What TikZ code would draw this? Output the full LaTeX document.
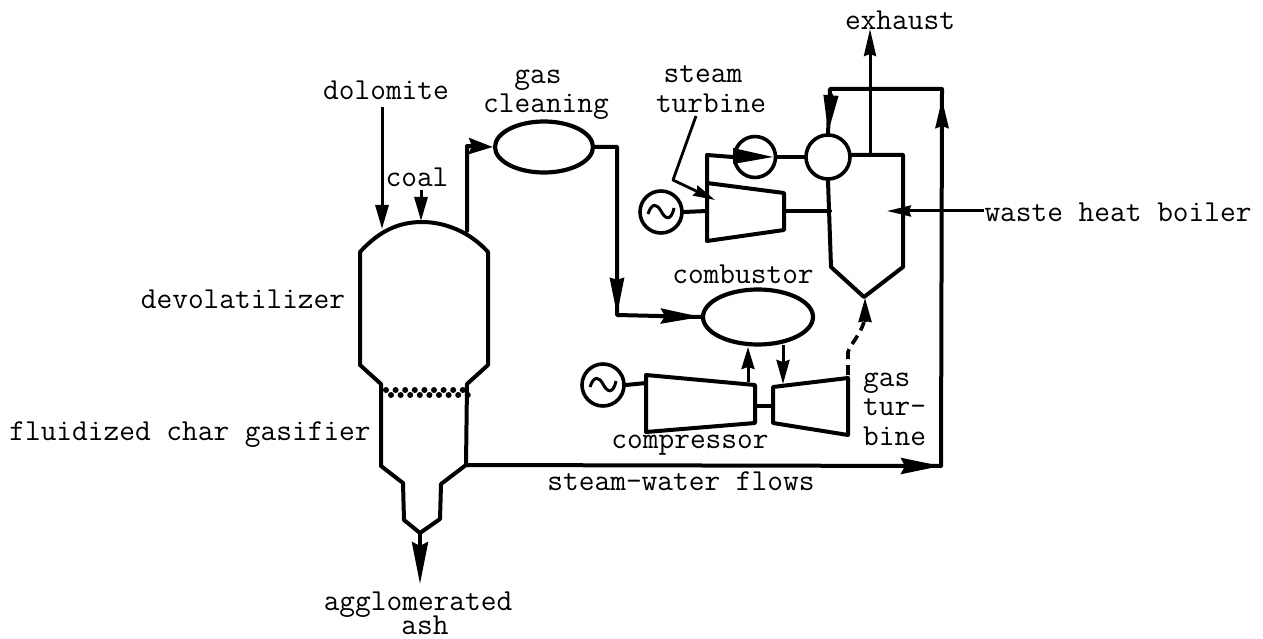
\documentclass[tikz,border=0pt]{standalone}
\usetikzlibrary{arrows.meta,shapes.geometric}
\tikzset{
  thick line/.style={line width=4pt,line join=round,line cap=round},
  thin line/.style={line width=3pt,line join=round},
  lab/.style={anchor=base,inner sep=0pt,font=\ttfamily\fontsize{30.5}{32}\selectfont},
  vessel/.style={draw,ellipse,line width=4.2pt,inner sep=0pt,fill=white},
  round unit/.style={draw,circle,line width=3.6pt,inner sep=0pt,fill=white},
}
\begin{document}
\begin{tikzpicture}[x=1pt,y=-1pt]
\useasboundingbox (0,0) rectangle (1263,639);
\fill[white] (0,0) rectangle (1263,639);
% coordinates of the vessel
\coordinate (vtl) at (360,252);
\coordinate (vtr) at (488,252);
\coordinate (vtop) at (422,222);
\coordinate (vbl) at (360,365);
\coordinate (vbr) at (488,365);
\coordinate (wl) at (381,384);
\coordinate (wr) at (467,384);
\coordinate (gl) at (381,466);
\coordinate (gr) at (466,465);
\coordinate (nl) at (403,483);
\coordinate (nr) at (441,484);
\coordinate (el) at (404,520);
\coordinate (er) at (440,519);
\coordinate (vb) at (420,533);
\coordinate (ashtip) at (420,584);
% vessel
\draw[thick line] (wl) -- (vbl) -- (vtl) .. controls (380,230) and (400,222) .. (vtop)
  .. controls (445,222) and (470,232) .. (vtr) -- (vbr) -- (wr) -- (gr) -- (nr) -- (er) -- (vb) -- (el) -- (nl) -- (gl) -- (wl);
% grid
\foreach \i in {0,...,8}{
  \fill (386+\i*9.6,390) circle (3pt);
  \fill (391+\i*9.6,395) circle (3pt);
}
% inputs
\coordinate (dolS) at (382,107);
\coordinate (dolT) at (382,229);
\coordinate (coalS) at (421,190);
\coordinate (coalT) at (421,221);
\draw[thin line,-{Stealth[length=24pt,width=13pt,inset=0pt]}] (dolS) -- (dolT);
\draw[thin line,-{Stealth[length=24pt,width=13pt,inset=0pt]}] (coalS) -- (coalT);
% gas cleaning
\node[vessel,minimum width=98pt,minimum height=51pt] (gc) at (544,147) {};
\node[vessel,minimum width=110pt,minimum height=55pt] (comb) at (758,317) {};
\coordinate (outtop) at (467,231);
\coordinate (cornerA) at (467,146);
\draw[thick line,-{Stealth[length=24pt,width=16pt,inset=3pt]}] (outtop) -- (cornerA) -- (gc.west);
\coordinate (cornerB) at (617,147);
\coordinate (cornerC) at (617,315);
\draw[thick line] (gc.east) -- (cornerB) -- (cornerC) -- (comb.west);
\coordinate (hdA) at (617,276);
\draw[thick line,-{Stealth[length=37pt,width=14pt,inset=2pt]}] (hdA) -- (cornerC);
\coordinate (hdB) at (660,316);
\draw[thick line,-{Stealth[length=40pt,width=15pt,inset=4pt]}] (hdB) -- (comb.west);
% steam side
\node[round unit,minimum size=44pt] (valve) at (828,157) {};
\node[round unit,minimum size=41pt] (pump) at (755,157) {};
\coordinate (tl) at (707,183);
\coordinate (tr) at (784,193);
\coordinate (br) at (784,230);
\coordinate (bl) at (707,241);
\draw[thick line] (tl) -- (tr) -- (br) -- (bl) -- cycle;
\coordinate (stTop) at (707,155);
\draw[thick line] (tl) -- (stTop) -- (pump.west);
\draw[thick line] (pump.east) -- (valve.west);
\fill (733,148) -- (773,157) -- (733,164) -- cycle;
% boiler
\coordinate (bA) at (831,267);
\coordinate (bTip) at (864,297);
\coordinate (bB) at (903,267);
\coordinate (bC) at (903,155);
\draw[thick line] (valve.south) -- (bA) -- (bTip) -- (bB) -- (bC) -- (valve.east |- bC);
\coordinate (tShaft) at (784,211);
\coordinate (bShaft) at (830,211);
\draw[thick line] (tShaft) -- (bShaft);
% generator 1
\node[round unit,minimum size=42pt] (g1) at (661,212) {};
\coordinate (g1T) at (707,211);
\draw[thick line] (g1.east) -- (g1T);
\draw[line width=3pt] (648,214) .. controls (652,202) and (657,204) .. (661,211) .. controls (665,219) and (671,222) .. (674,208);
% exhaust
\coordinate (exS) at (870,155);
\coordinate (exT) at (870,29);
\draw[thin line,-{Stealth[length=27pt,width=12pt,inset=2pt]}] (exS) -- (exT);
% feedwater
\coordinate (bot0) at (466,465);
\coordinate (botR) at (941,466);
\coordinate (topR) at (942,89);
\coordinate (topL) at (830,89);
\draw[thick line] (bot0) -- (botR) -- (topR) -- (topL) -- (valve.north);
\draw[thick line,-{Stealth[length=40pt,width=16pt,inset=4pt]}] (900,466) -- (botR);
\coordinate (upS) at (942,140);
\coordinate (upT) at (942,99);
\draw[thick line,-{Stealth[length=29pt,width=13pt,inset=2pt]}] (upS) -- (upT);
\coordinate (dnS) at (831,95);
\draw[thick line,-{Stealth[length=38pt,width=14pt,inset=0pt]}] (dnS) -- (valve.north);
% labelled arrows
\node[lab] (waste) at (1118,222) {waste heat boiler};
\coordinate (wasteT) at (887,211);
\draw[thin line,-{Stealth[length=24pt,width=11pt,inset=2pt]}] (waste.west |- wasteT) -- (wasteT);
\node[lab] (turbL) at (711,113) {turbine};
\coordinate (lb1) at (696,116);
\coordinate (lb2) at (673,180);
\coordinate (lb3) at (715,200);
\draw[line width=2.8pt,-{Stealth[length=22pt,width=11pt,inset=2pt]},line join=round] (lb1) -- (lb2) -- (lb3);
% compressor and gas turbine
\coordinate (c1) at (646,375);
\coordinate (c2) at (755,385);
\coordinate (c3) at (755,423);
\coordinate (c4) at (646,432);
\draw[thick line] (c1) -- (c2) -- (c3) -- (c4) -- cycle;
\coordinate (t1) at (773,387);
\coordinate (t2) at (848,378);
\coordinate (t3) at (848,435);
\coordinate (t4) at (773,423);
\draw[thick line] (t1) -- (t2) -- (t3) -- (t4) -- cycle;
\coordinate (shA) at (755,406);
\coordinate (shB) at (773,406);
\draw[thick line] (shA) -- (shB);
\node[round unit,minimum size=42pt] (g2) at (603,385) {};
\coordinate (g2T) at (646,383);
\draw[thick line] (g2.east) -- (g2T);
\draw[line width=3pt] (590,387) .. controls (594,375) and (599,377) .. (603,384) .. controls (607,392) and (613,395) .. (616,381);
\coordinate (cUp) at (748,382);
\coordinate (cUpT) at (748,347);
\draw[thin line,-{Stealth[length=22pt,width=13pt,inset=2pt]}] (cUp) -- (cUpT);
\coordinate (cDn) at (783,345);
\coordinate (cDnT) at (783,384);
\draw[thin line,-{Stealth[length=24pt,width=13pt,inset=2pt]}] (cDn) -- (cDnT);
\coordinate (dS) at (848,375);
\draw[line width=3.6pt,dash pattern=on 10pt off 6pt] (dS) -- (848,352) .. controls (850,345) and (860,335) .. (864,322);
\coordinate (dT) at (865,298);
\coordinate (dB) at (865,322);
\draw[thin line,-{Stealth[length=24pt,width=13pt,inset=1pt]}] (dB) -- (dT);
% ash
\draw[thick line,-{Stealth[length=42pt,width=16pt,inset=4pt]}] (vb) -- (ashtip);
% labels
\node[lab] at (386,100) {dolomite};
\node[lab] at (417,186) {coal};
\node[lab] at (538,84) {gas};
\node[lab] at (546,113) {cleaning};
\node[lab] at (703,83) {steam};
\node[lab] at (900,30) {exhaust};
\node[lab] at (743,283) {combustor};
\node[lab] at (243,308) {devolatilizer};
\node[lab] at (190,440) {fluidized char gasifier};
\node[lab] at (690,448) {compressor};
\node[lab,anchor=base west] at (863,386) {gas};
\node[lab,anchor=base west] at (863,415) {tur-};
\node[lab,anchor=base west] at (863,445) {bine};
\node[lab] at (681,490) {steam-water flows};
\node[lab] at (418,610) {agglomerated};
\node[lab] at (425,634) {ash};
\end{tikzpicture}
\end{document}
